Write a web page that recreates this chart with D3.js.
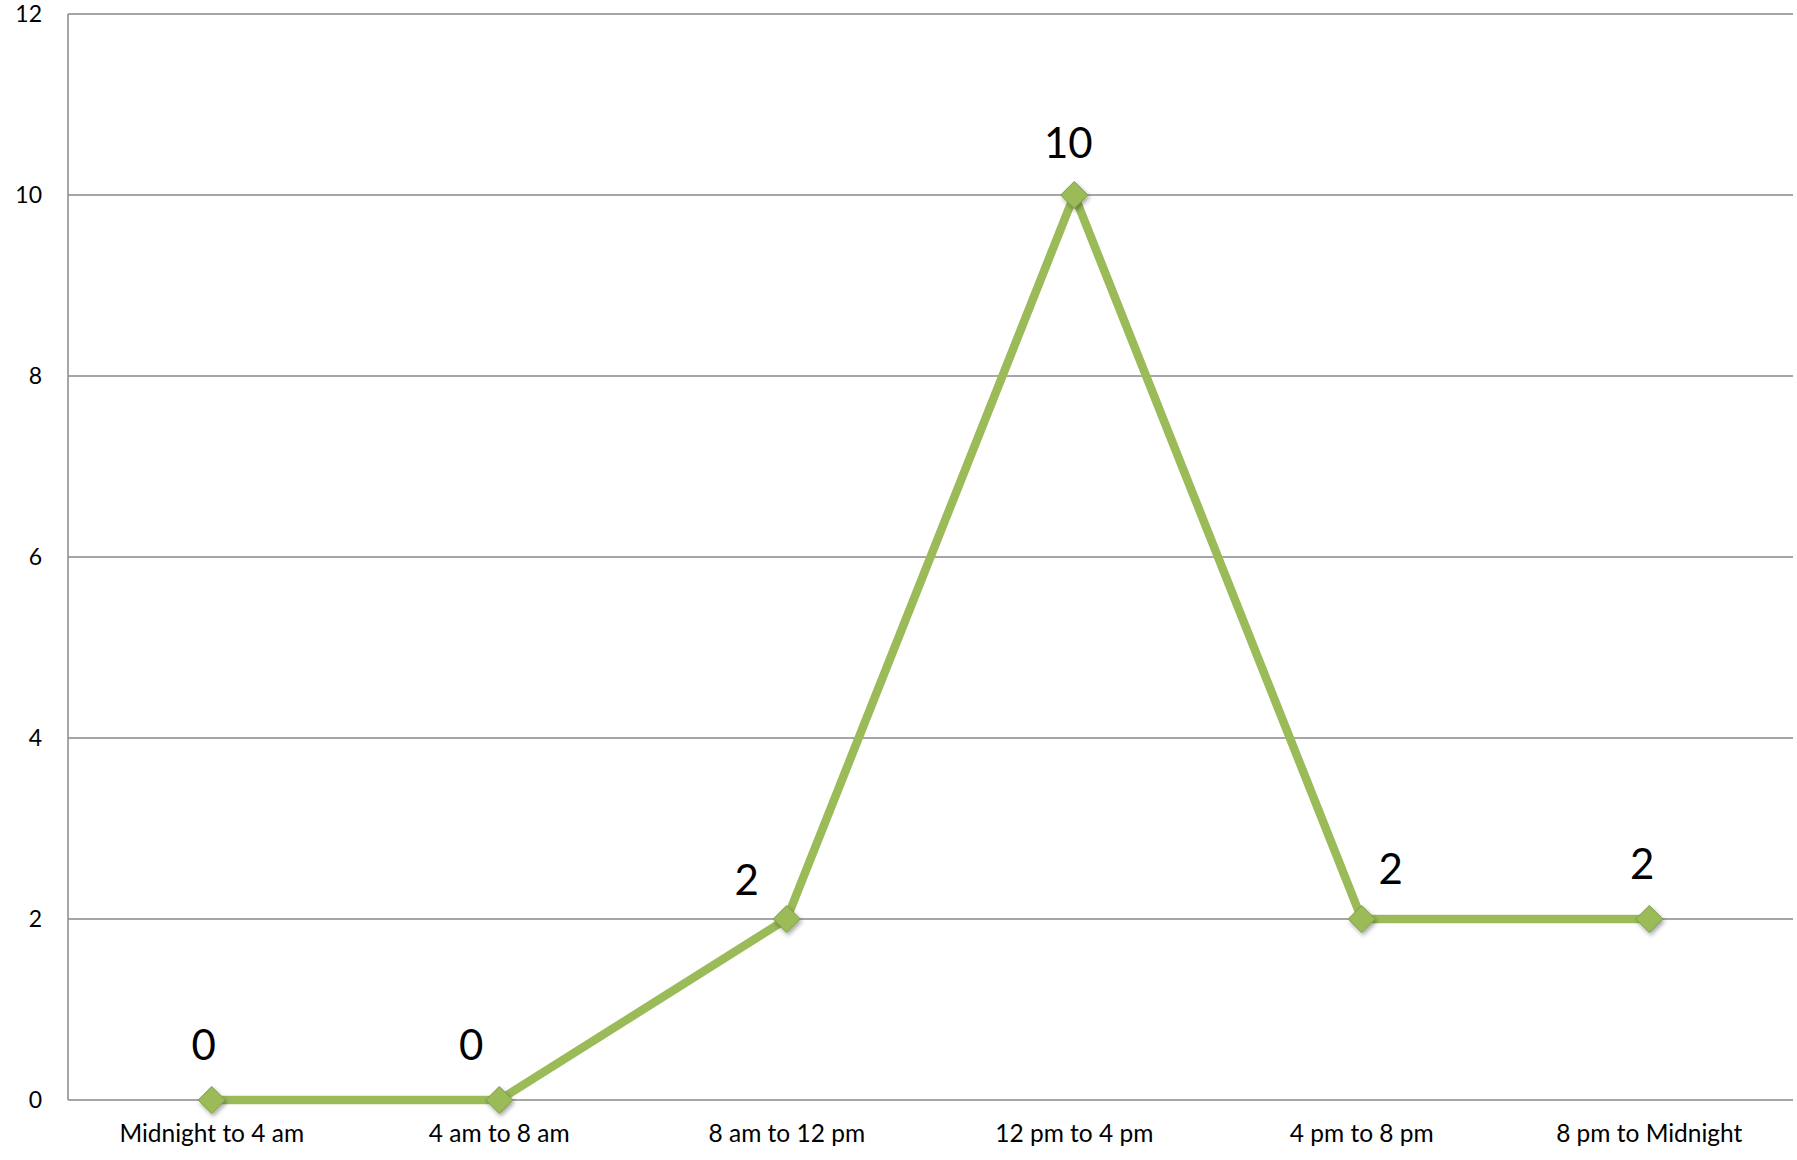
<!DOCTYPE html>
<html>
<head>
<meta charset="utf-8">
<script src="https://cdn.jsdelivr.net/npm/d3@7"></script>
<style>
  html, body { margin: 0; padding: 0; background: #fff; }
  svg { display: block; }
</style>
</head>
<body>
<svg id="chart" width="1797" height="1160"></svg>
<script>
// Time-of-day buckets and counts
const categories = ["Midnight to 4 am", "4 am to 8 am", "8 am to 12 pm", "12 pm to 4 pm", "4 pm to 8 pm", "8 pm to Midnight"];
const counts = [0, 0, 2, 10, 2, 2];
const yTicks = [0, 2, 4, 6, 8, 10, 12];
// Nudges for each value label relative to its point (dx, dy)
const labelOffsets = [[-8, -40], [-28, -40], [-40, -24], [-6, -37], [29, -35], [-7, -40]];

const W = 1797, H = 1160;
const margin = { left: 68, right: 4, top: 14, bottom: 60 };
const svg = d3.select("#chart");

const x = d3.scaleBand().domain(categories).range([margin.left, W - margin.right]);
const y = d3.scaleLinear().domain([0, 12]).range([H - margin.bottom, margin.top]);

const defs = svg.append("defs");
const f = defs.append("filter").attr("id", "shadow").attr("x", "-50%").attr("y", "-50%").attr("width", "200%").attr("height", "200%");
f.append("feDropShadow").attr("dx", 1.5).attr("dy", 2.5).attr("stdDeviation", 2).attr("flood-color", "#000").attr("flood-opacity", 0.35);

// Horizontal gridlines
svg.append("g")
  .selectAll("line")
  .data(yTicks)
  .join("line")
  .attr("x1", margin.left).attr("x2", W - margin.right)
  .attr("y1", d => y(d)).attr("y2", d => y(d))
  .attr("stroke", "#898989").attr("stroke-width", 1.5);

// Vertical axis line
svg.append("line")
  .attr("x1", margin.left).attr("x2", margin.left)
  .attr("y1", y(12)).attr("y2", y(0))
  .attr("stroke", "#898989").attr("stroke-width", 1.5);

const font = "Lato, 'Open Sans', sans-serif";

// Y axis labels
const yAxis = d3.axisLeft(y).tickValues(yTicks).tickSize(0).tickPadding(26);
const gy = svg.append("g").attr("transform", `translate(${margin.left},0)`).call(yAxis);
gy.select(".domain").remove();
gy.selectAll("text").attr("font-family", font).attr("font-size", 23).attr("fill", "#000");

// X axis labels
const xAxis = d3.axisBottom(x).tickSize(0).tickPadding(25);
const gx = svg.append("g").attr("transform", `translate(0,${y(0)})`).call(xAxis);
gx.select(".domain").remove();
gx.selectAll("text").attr("font-family", font).attr("font-size", 24.5).attr("fill", "#000");

const cx = d => x(d) + x.bandwidth() / 2;
const pts = categories.map((c, i) => ({ c, v: counts[i], i }));

// Series line
svg.append("path")
  .datum(pts)
  .attr("d", d3.line().x(d => cx(d.c)).y(d => y(d.v)))
  .attr("fill", "none")
  .attr("stroke", "#9BBB59")
  .attr("stroke-width", 8.5)
  .attr("stroke-linejoin", "miter");

// Diamond markers
svg.append("g")
  .selectAll("path")
  .data(pts)
  .join("path")
  .attr("transform", d => `translate(${cx(d.c)},${y(d.v)})`)
  .attr("d", "M0,-13.5L13.5,0L0,13.5L-13.5,0Z")
  .attr("fill", "#9BBB59")
  .attr("stroke", "#7D9B45")
  .attr("stroke-width", 1)
  .attr("filter", "url(#shadow)");

// Value labels
svg.append("g")
  .selectAll("text")
  .data(pts)
  .join("text")
  .attr("x", d => cx(d.c) + labelOffsets[d.i][0])
  .attr("y", d => y(d.v) + labelOffsets[d.i][1])
  .attr("text-anchor", "middle")
  .attr("font-family", font)
  .attr("font-size", 42)
  .attr("fill", "#000")
  .text(d => d.v);
</script>
</body>
</html>
